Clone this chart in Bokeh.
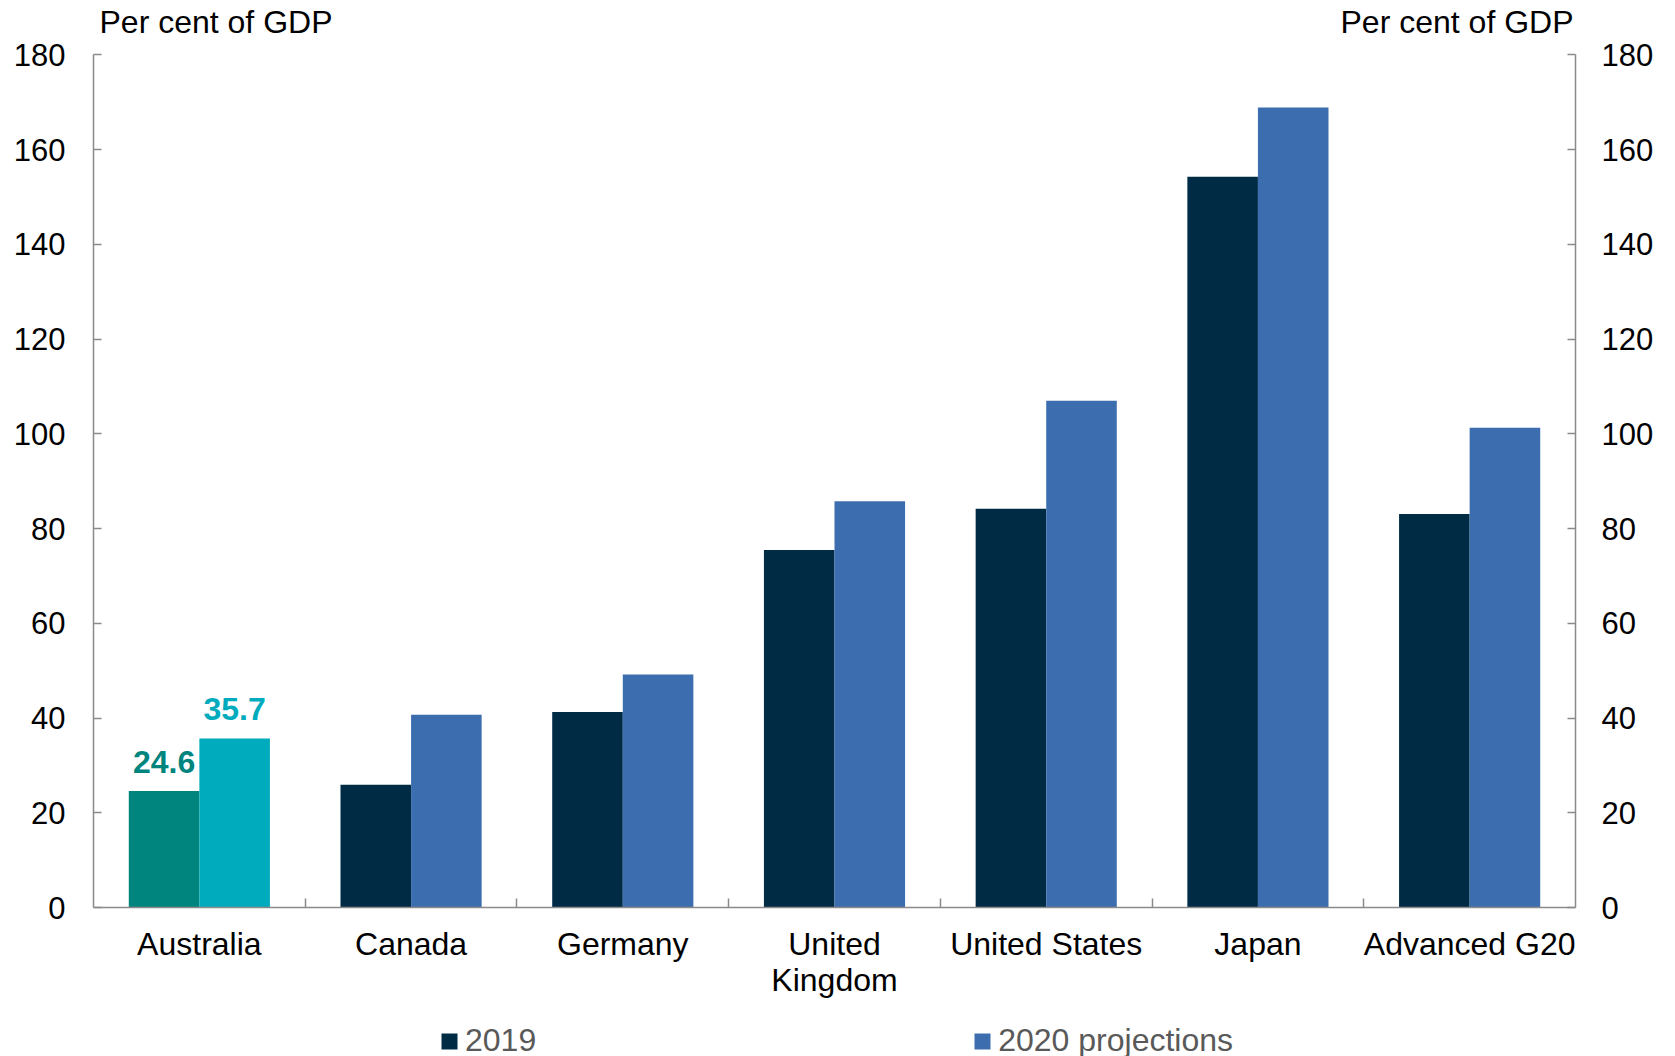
import numpy as np
from bokeh.plotting import figure
from bokeh.layouts import column
from bokeh.models import (ColumnDataSource, Range1d, LinearAxis, FixedTicker,
                          Label, LabelSet, Legend, LegendItem)
from bokeh.core.properties import value
from bokeh.embed import file_html
from bokeh.resources import INLINE

# Gross government debt, per cent of GDP
countries = ["Australia", "Canada", "Germany", "United\nKingdom",
             "United States", "Japan", "Advanced G20"]
debt_2019 = [24.6, 25.9, 41.3, 75.5, 84.2, 154.3, 83.1]
debt_2020 = [35.7, 40.7, 49.2, 85.8, 107.0, 168.9, 101.3]
y_ticks = [0, 20, 40, 60, 80, 100, 120, 140, 160, 180]
series_names = ["2019", "2020 projections"]

FONT = "Liberation Sans"
NAVY = "#002B45"
BLUE = "#3C6EAF"
TEAL = "#00847E"
CYAN = "#00ABBD"
AXIS = "#8A8A8A"

W = 1675
H_MAIN = 1010
H_LEG = 46

n = len(countries)
centres = np.arange(n) + 0.5
bar_w = 1 / 3
y_top = y_ticks[-1]
# headroom above the top tick holds the unit captions
y_head = 11.5

src_a = ColumnDataSource(dict(
    x=centres - bar_w / 2, top=debt_2019,
    color=[TEAL] + [NAVY] * (n - 1)))
src_b = ColumnDataSource(dict(
    x=centres + bar_w / 2, top=debt_2020,
    color=[CYAN] + [BLUE] * (n - 1)))

p = figure(width=W, height=H_MAIN, output_backend="svg", toolbar_location=None,
           x_range=Range1d(0, n), y_range=Range1d(y_ticks[0], y_top + y_head),
           x_axis_type=None, y_axis_type=None,
           min_border_left=93, min_border_right=100,
           min_border_top=0, min_border_bottom=103)
p.outline_line_color = None
p.xgrid.visible = False
p.ygrid.visible = False

p.vbar(x="x", top="top", width=bar_w, bottom=0, source=src_a,
       fill_color="color", line_color=None)
p.vbar(x="x", top="top", width=bar_w, bottom=0, source=src_b,
       fill_color="color", line_color=None)

# category axis: labels at group centres, separators as minor ticks
xaxis = LinearAxis(ticker=FixedTicker(ticks=list(centres),
                                      minor_ticks=list(range(1, n))))
xaxis.major_label_overrides = {float(c): name for c, name in zip(centres, countries)}
xaxis.major_tick_in = 0
xaxis.major_tick_out = 0
xaxis.minor_tick_in = 9
xaxis.minor_tick_out = 0
xaxis.minor_tick_line_color = AXIS
xaxis.minor_tick_line_width = 1.5
xaxis.axis_line_color = AXIS
xaxis.axis_line_width = 1.5
xaxis.major_label_standoff = 18
xaxis.major_label_text_font = FONT
xaxis.major_label_text_font_size = "32px"
xaxis.major_label_text_line_height = 1.0
xaxis.major_label_text_color = "black"
p.add_layout(xaxis, "below")

for side, standoff in (("left", 28), ("right", 26)):
    ax = LinearAxis(ticker=FixedTicker(ticks=y_ticks, minor_ticks=[]),
                    bounds=(y_ticks[0], y_top))
    ax.major_tick_in = 8
    ax.major_tick_out = 0
    ax.minor_tick_in = 0
    ax.minor_tick_out = 0
    ax.major_tick_line_color = AXIS
    ax.major_tick_line_width = 1.5
    ax.axis_line_color = AXIS
    ax.axis_line_width = 1.5
    ax.major_label_standoff = standoff
    ax.major_label_text_font = FONT
    ax.major_label_text_font_size = "31px"
    ax.major_label_text_color = "black"
    p.add_layout(ax, side)

# unit captions above each axis
for x, align, dx in ((0, "left", 6), (n, "right", -2)):
    p.add_layout(Label(x=x, y=y_top, x_offset=dx, y_offset=33,
                       text="Per cent of GDP", text_align=align,
                       text_baseline="alphabetic", text_font=FONT,
                       text_font_size="32px", text_color="black"))

# value labels on the Australian bars
lab_src = ColumnDataSource(dict(
    x=[centres[0] - bar_w / 2, centres[0] + bar_w / 2],
    y=[debt_2019[0], debt_2020[0]],
    text=[f"{debt_2019[0]:.1f}", f"{debt_2020[0]:.1f}"],
    color=[TEAL, CYAN]))
p.add_layout(LabelSet(x="x", y="y", text="text", source=lab_src,
                      y_offset=18, text_align="center", text_baseline="alphabetic",
                      text_font=value(FONT), text_font_size=value("32px"),
                      text_font_style="bold", text_color="color"))

# legend strip below the chart
leg = figure(width=W, height=H_LEG, output_backend="svg", toolbar_location=None,
             x_range=Range1d(0, 1), y_range=Range1d(0, 1),
             x_axis_type=None, y_axis_type=None,
             min_border_left=0, min_border_right=0,
             min_border_top=0, min_border_bottom=0)
leg.outline_line_color = None
leg.xgrid.visible = False
leg.ygrid.visible = False
# proxy bars sit outside the strip's ranges; only their legend swatches show
leg_a = leg.vbar(x=[-5], top=[-5], bottom=[-6], width=0.1,
                 fill_color=NAVY, line_color=None)
leg_b = leg.vbar(x=[-5], top=[-5], bottom=[-6], width=0.1,
                 fill_color=BLUE, line_color=None)
legend = Legend(items=[LegendItem(label=series_names[0], renderers=[leg_a]),
                       LegendItem(label=series_names[1], renderers=[leg_b])],
                orientation="horizontal", location=(346, -3),
                glyph_width=20, glyph_height=20, label_standoff=6,
                spacing=436, padding=0, margin=0,
                border_line_color=None, background_fill_alpha=0,
                label_text_font=FONT, label_text_font_size="32px",
                label_text_color="#595959")
leg.add_layout(legend, "center")

layout = column(p, leg, spacing=0)
open("out.html", "w").write(file_html(layout, INLINE))
